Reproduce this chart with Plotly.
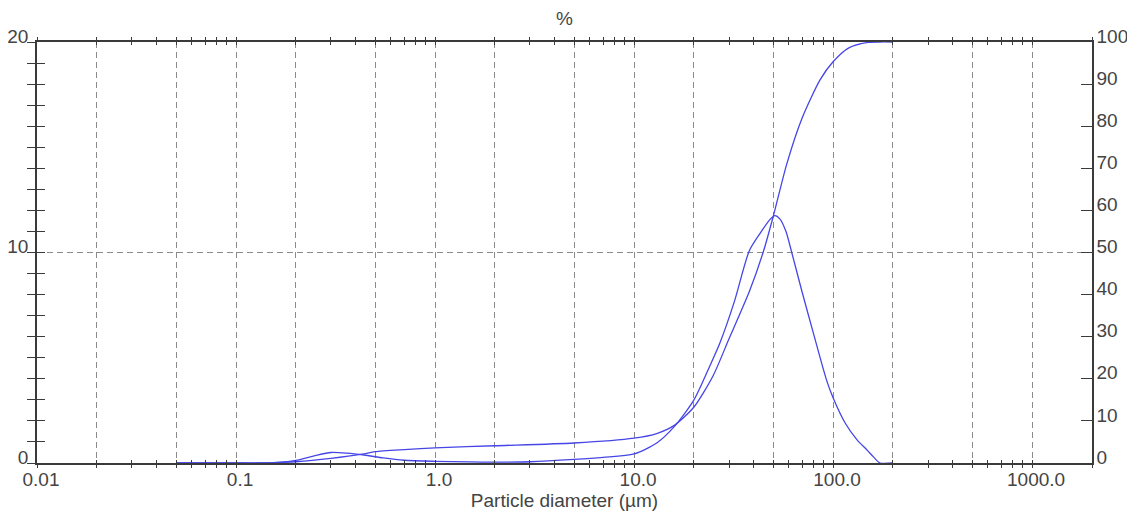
import plotly.graph_objects as go
import math

# ---- data ----
freq_x = [0.05, 0.1, 0.13, 0.17, 0.2, 0.25, 0.3, 0.36, 0.44, 0.55, 0.7, 1.0, 1.5, 2.0, 3.0, 5.0, 7.0,
          10, 13, 16, 20, 24, 27, 32, 38, 44, 48, 51, 54, 58, 62, 70, 80, 93, 100, 115, 132, 148, 160, 172, 200]
freq_y = [0, 0, 0, 0.04, 0.12, 0.35, 0.5, 0.47, 0.38, 0.24, 0.13, 0.08, 0.05, 0.04, 0.06, 0.17, 0.27,
          0.43, 0.95, 1.75, 3.0, 4.6, 5.7, 7.7, 10.1, 11.05, 11.55, 11.75, 11.6, 11.0, 10.0, 8.1, 6.1, 3.9, 3.1, 1.9, 1.1, 0.62, 0.28, 0, 0]

cum_x = [0.05, 0.1, 0.12, 0.15, 0.2, 0.3, 0.43, 0.5, 0.7, 1.0, 2.0, 5.0, 10, 13, 16, 20, 25, 30, 38,
         44.5, 50, 58.5, 70, 86, 100, 120, 150, 170, 200]
cum_y = [0, 0, 0, 0.05, 0.3, 1.1, 2.1, 2.7, 3.2, 3.6, 4.1, 4.75, 5.9, 7.0, 9.0, 13.3, 20.8, 29.5, 40.8,
         50.0, 58.5, 71.0, 82.0, 91.0, 95.3, 98.6, 99.9, 100, 100]

x_decades = [0.01, 0.1, 1, 10, 100, 1000]
x_tick_labels = ["0.01", "0.1", "1.0", "10.0", "100.0", "1000.0"]
x_grid_multiples = [1, 2, 5]
x_minor_multiples = [3, 4, 6, 7, 8, 9]
x_max = 2000

y_left_ticks = [0, 10, 20]
y_left_labels = ["0", "10", "20"]
y_right_ticks = [0, 10, 20, 30, 40, 50, 60, 70, 80, 90, 100]
y_right_labels = ["0", "10", "20", "30", "40", "50", "60", "70", "80", "90", "100"]

x_title = "Particle diameter (µm)"
top_title = "%"

# ---- build tick arrays from the lists ----
main_vals, main_text = [], []
for d, lab in zip(x_decades, x_tick_labels):
    for m in x_grid_multiples:
        v = round(d * m, 6)
        if v <= x_max:
            main_vals.append(v)
            main_text.append(lab if m == 1 else "")
minor_vals = [round(d * m, 6) for d in x_decades for m in x_minor_multiples if d * m <= x_max]
all_vals = sorted(main_vals + minor_vals + [x_max])

LINE = "#3a3a3a"
TXT = "#444444"
BLUE = "#4646e6"
GRID = "#8a8a8a"
FONT = "Liberation Sans, Arial, sans-serif"
FS = 19

fig = go.Figure()
fig.add_trace(go.Scatter(x=freq_x, y=freq_y, mode="lines", xaxis="x", yaxis="y",
                         line=dict(color=BLUE, width=1.3, shape="spline", smoothing=0.7),
                         showlegend=False, hoverinfo="skip"))
fig.add_trace(go.Scatter(x=cum_x, y=cum_y, mode="lines", xaxis="x", yaxis="y2",
                         line=dict(color=BLUE, width=1.3, shape="spline", smoothing=0.7),
                         showlegend=False, hoverinfo="skip"))
# invisible trace to instantiate the inside-tick overlay axes
fig.add_trace(go.Scatter(x=[1], y=[0], mode="markers", xaxis="x2", yaxis="y3",
                         marker=dict(opacity=0), showlegend=False, hoverinfo="skip"))

xr = [math.log10(x_decades[0]), math.log10(x_max)]

fig.update_layout(
    width=1127, height=511,
    margin=dict(l=37, r=35, t=42, b=48, autoexpand=False),
    paper_bgcolor="white", plot_bgcolor="white",
    font=dict(family=FONT, size=FS, color=TXT),
    xaxis=dict(type="log", range=xr, tickmode="array", tickvals=main_vals, ticktext=main_text,
               ticks="outside", ticklen=3, tickwidth=1.2, tickcolor=LINE,
               showgrid=True, gridcolor=GRID, griddash="6px,4px", gridwidth=1,
               showline=True, linecolor=LINE, linewidth=1.5, mirror="ticks",
               minor=dict(tickmode="array", tickvals=minor_vals + [x_max], ticks="outside",
                          ticklen=3, tickwidth=1.2, tickcolor=LINE, showgrid=False),
               ticklabelshift=4, ticklabelstandoff=-5, zeroline=False, automargin=False,
               title=dict(text=x_title, standoff=0, font=dict(size=FS, color=TXT)),
               anchor="y"),
    xaxis2=dict(type="log", range=xr, overlaying="x", anchor="y", side="bottom",
                tickmode="array", tickvals=all_vals, ticks="inside", ticklen=3, tickwidth=1.2,
                tickcolor=LINE, showticklabels=False, showgrid=False, showline=False,
                mirror="ticks", zeroline=False, automargin=False),
    yaxis=dict(range=[0, 20], tickmode="array", tickvals=y_left_ticks, ticktext=y_left_labels,
               ticks="outside", ticklen=8, tickwidth=1.2, tickcolor=LINE,
               minor=dict(dtick=1, ticks="outside", ticklen=8, tickwidth=1.2, tickcolor=LINE,
                          showgrid=False),
               showgrid=True, gridcolor=GRID, griddash="6px,4px", gridwidth=1,
               showline=True, linecolor=LINE, linewidth=1.5, zeroline=False,
               ticklabelshift=-6, ticklabelstandoff=-5, anchor="x", automargin=False),
    yaxis3=dict(range=[0, 20], overlaying="y", anchor="x", side="left",
                tickmode="linear", tick0=0, dtick=1, ticks="inside", ticklen=8, tickwidth=1.2,
                tickcolor=LINE, showticklabels=False, showgrid=False, showline=False,
                zeroline=False, automargin=False),
    yaxis2=dict(range=[0, 100], overlaying="y", anchor="x", side="right",
                tickmode="array", tickvals=y_right_ticks, ticktext=y_right_labels,
                ticks="inside", ticklen=11, tickwidth=1.2, tickcolor=LINE,
                showgrid=False, showline=True, linecolor=LINE, linewidth=1.5, zeroline=False,
                ticklabelshift=-6, ticklabelstandoff=-1, automargin=False),
    annotations=[dict(text=top_title, xref="paper", yref="paper", x=0.5, y=1,
                      yshift=24, yanchor="middle", xanchor="center", showarrow=False,
                      font=dict(size=FS, color=TXT))],
)

fig.write_html("out.html", config={"displayModeBar": False},
               post_script="document.body.style.margin='0';document.body.style.overflow='hidden';")
